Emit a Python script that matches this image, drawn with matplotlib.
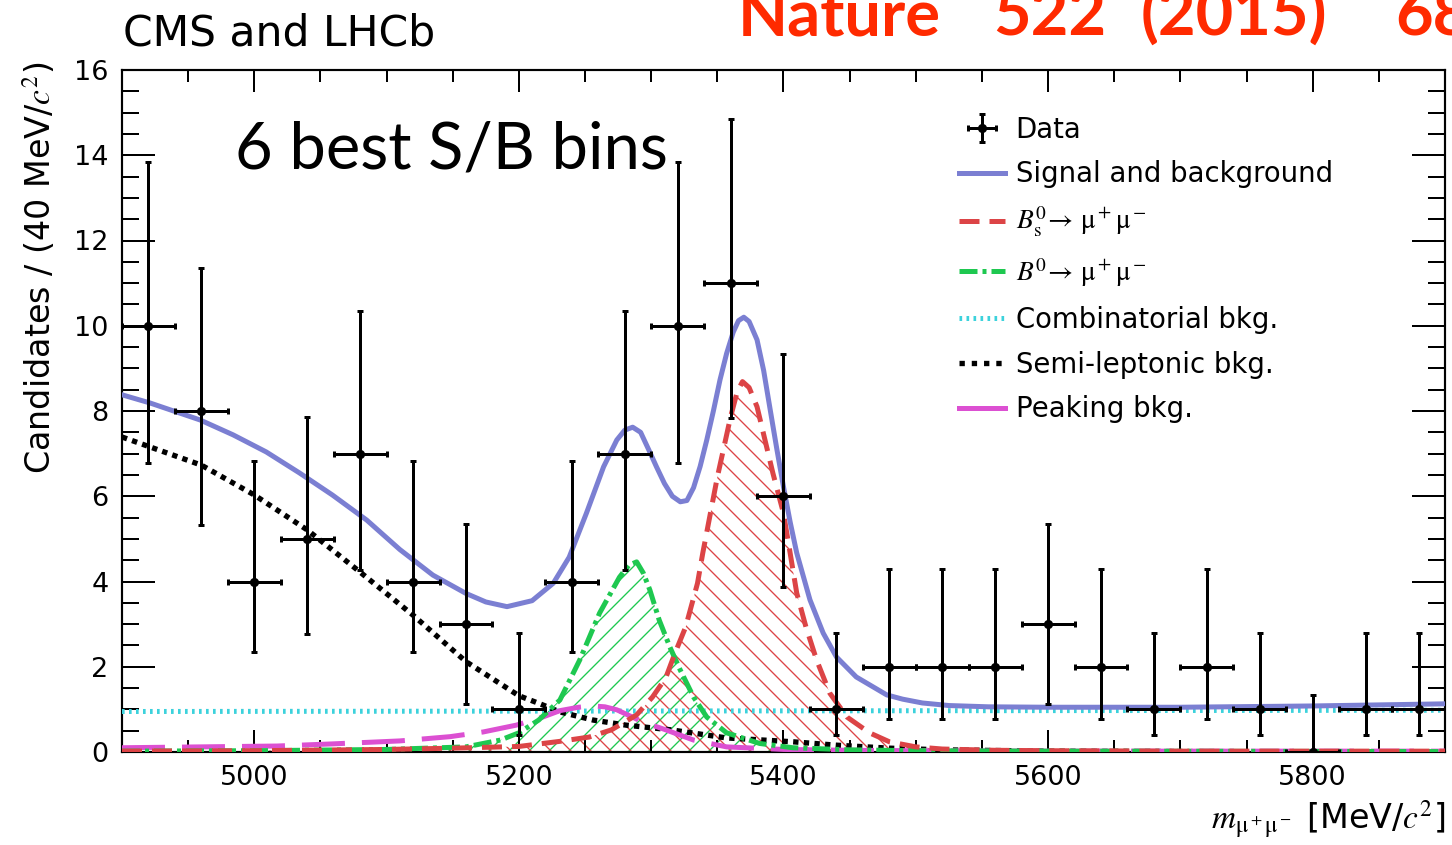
import numpy as np
import matplotlib
matplotlib.use("Agg")
import matplotlib.pyplot as plt
from matplotlib.lines import Line2D

plt.rcParams['font.family'] = ['DejaVu Sans']
plt.rcParams['mathtext.fontset'] = 'stix'
plt.rcParams['hatch.linewidth'] = 0.8

# data: 40 MeV bins
bin_centers = [4920, 4960, 5000, 5040, 5080, 5120, 5160, 5200, 5240, 5280, 5320, 5360, 5400,
               5440, 5480, 5520, 5560, 5600, 5640, 5680, 5720, 5760, 5800, 5840, 5880]
counts = [10, 8, 4, 5, 7, 4, 3, 1, 4, 7, 10, 11, 6, 1, 2, 2, 2, 3, 2, 1, 2, 1, 0, 1, 1]
err_low = [3.22, 2.67, 1.65, 2.23, 2.73, 1.65, 1.87, 0.60, 1.65, 2.73, 3.22, 3.16, 2.14,
           0.60, 1.22, 1.22, 1.22, 1.87, 1.22, 0.60, 1.22, 0.60, 0.0, 0.60, 0.60]
err_high = [3.85, 3.36, 2.83, 2.86, 3.35, 2.83, 2.35, 1.80, 2.83, 3.35, 3.85, 3.85, 3.34,
            1.80, 2.29, 2.29, 2.29, 2.35, 2.29, 1.80, 2.29, 1.80, 1.34, 1.80, 1.80]
bin_half = 20

# fit components
m_sb = [4900, 4921, 4959, 4984, 5009, 5034, 5059, 5085, 5110, 5135, 5160, 5175, 5191, 5210,
        5226, 5238, 5251, 5264, 5274, 5280, 5286, 5292, 5298, 5304, 5310, 5316, 5322, 5327,
        5332, 5337, 5342, 5347, 5352, 5357, 5362, 5366, 5370, 5374, 5380, 5385, 5390, 5395,
        5400, 5405, 5410, 5420, 5430, 5440, 5455, 5478, 5490, 5505, 5525, 5555, 5600, 5700,
        5800, 5900]
y_sb = [8.38, 8.19, 7.79, 7.44, 7.04, 6.55, 6.03, 5.44, 4.75, 4.15, 3.72, 3.52, 3.41, 3.55,
        3.96, 4.57, 5.6, 6.69, 7.32, 7.55, 7.62, 7.5, 7.1, 6.69, 6.3, 6.0, 5.87, 5.9,
        6.2, 6.7, 7.32, 8.0, 8.73, 9.35, 9.85, 10.12, 10.2, 10.1, 9.67, 8.95, 8.02, 7.1,
        6.22, 5.4, 4.67, 3.57, 2.79, 2.23, 1.76, 1.34, 1.24, 1.15, 1.09, 1.06, 1.05, 1.05,
        1.08, 1.13]

m_bs = [4900, 5000, 5100, 5150, 5200, 5231, 5253, 5270, 5289, 5301, 5311, 5318, 5326, 5331,
        5335, 5339, 5350, 5360, 5365, 5369, 5374, 5380, 5386, 5392, 5400, 5405, 5410, 5417,
        5425, 5435, 5448, 5465, 5480, 5500, 5520, 5560, 5600, 5700, 5900]
y_bs = [0.02, 0.03, 0.06, 0.09, 0.13, 0.25, 0.35, 0.52, 0.87, 1.29, 1.74, 2.32, 2.93, 3.5,
        3.96, 4.67, 6.45, 7.86, 8.45, 8.69, 8.55, 8.1, 7.32, 6.54, 5.6, 4.67, 3.73, 2.93,
        2.16, 1.38, 0.82, 0.45, 0.24, 0.12, 0.07, 0.04, 0.03, 0.02, 0.02]

m_b0 = [4900, 5000, 5100, 5160, 5186, 5200, 5215, 5231, 5246, 5261, 5276, 5283, 5289, 5294,
        5299, 5306, 5314, 5322, 5332, 5342, 5357, 5382, 5407, 5450, 5500, 5600, 5900]
y_b0 = [0.02, 0.03, 0.06, 0.12, 0.28, 0.45, 0.75, 1.22, 2.16, 3.26, 4.1, 4.38, 4.46, 4.2,
        3.8, 3.1, 2.47, 1.92, 1.29, 0.82, 0.45, 0.2, 0.1, 0.05, 0.03, 0.02, 0.01]

m_comb = [4900, 5900]
y_comb = [0.95, 0.98]

m_sl = [4900, 4960, 5000, 5040, 5080, 5120, 5160, 5200, 5216, 5231, 5256, 5281, 5315, 5357,
        5407, 5440, 5480, 5520, 5600, 5700, 5900]
y_sl = [7.39, 6.73, 6.03, 5.21, 4.22, 3.21, 2.12, 1.32, 1.13, 0.94, 0.75, 0.63, 0.52, 0.33,
        0.24, 0.16, 0.09, 0.05, 0.02, 0.01, 0.0]

m_pk = [4900, 4959, 5017, 5059, 5110, 5148, 5173, 5198, 5218, 5231, 5245, 5256, 5265, 5274,
        5294, 5311, 5332, 5357, 5400, 5450, 5500, 5600, 5900]
y_pk = [0.1, 0.12, 0.14, 0.19, 0.26, 0.36, 0.47, 0.63, 0.82, 0.97, 1.05, 1.08, 1.06, 0.99,
        0.7, 0.52, 0.28, 0.12, 0.06, 0.04, 0.03, 0.02, 0.02]

c_sb = '#7b7fd2'
c_bs = '#dc4446'
c_b0 = '#1ec850'
c_comb = '#3cd2dc'
c_pk = '#dc50d2'

st_bs = dict(color=c_bs, lw=3.0, dashes=(4, 2))
st_b0 = dict(color=c_b0, lw=3.0, dashes=(3.6, 1.0, 0.8, 1.0))
st_comb = dict(color=c_comb, lw=3.0, dashes=(0.53, 0.87))
st_sl = dict(color='black', lw=3.2, dashes=(1, 1))
st_pk = dict(color=c_pk, lw=3.0, dashes=(8.6, 3.4))

fig = plt.figure(figsize=(12.1, 845 / 120), dpi=120)
ax = fig.add_axes([122 / 1452, 1 - 752 / 845, 1323 / 1452, 682 / 845])

# hatched signal areas
ax.fill_between(m_b0, 0, y_b0, facecolor='none', edgecolor=c_b0, hatch='//', linewidth=0, zorder=1)
ax.fill_between(m_bs, 0, y_bs, facecolor='none', edgecolor=c_bs, hatch='\\\\', linewidth=0, zorder=1)

ax.plot(m_comb, y_comb, zorder=3, **st_comb)
ax.plot(m_sl, y_sl, zorder=3, **st_sl)
ax.plot(m_pk, y_pk, zorder=3, **st_pk)
ax.plot(m_b0, y_b0, zorder=4, **st_b0)
ax.plot(m_bs, y_bs, zorder=4, **st_bs)
ax.plot(m_sb, y_sb, color=c_sb, lw=3.0, zorder=5)

data = ax.errorbar(bin_centers, counts, xerr=bin_half, yerr=[err_low, err_high],
                   fmt='o', color='black', ms=4.5, elinewidth=1.8, capsize=2,
                   capthick=1.8, zorder=10)

ax.set_xlim(4900, 5900)
ax.set_ylim(0, 16)
ax.set_xticks([5000, 5200, 5400, 5600, 5800])
ax.set_xticks(np.arange(4900, 5901, 50), minor=True)
ax.set_yticks(np.arange(0, 17, 2))
ax.set_yticks(np.arange(0, 16.1, 0.5), minor=True)
ax.tick_params(axis='both', which='both', direction='in', top=True, right=True,
               width=1.2, labelsize=16.2, colors='black')
ax.tick_params(axis='x', which='major', length=13, pad=8)
ax.tick_params(axis='x', which='minor', length=7)
ax.tick_params(axis='y', which='major', length=20, pad=8)
ax.tick_params(axis='y', which='minor', length=10)
for sp in ax.spines.values():
    sp.set_linewidth(1.3)

ax.set_ylabel('Candidates / (40 MeV/$c^2$)', fontsize=20, loc='top')
ax.yaxis.set_label_coords(-0.049, 1.012)
ax.set_xlabel(r'$m_{\mathrm{\mu^+\mu^-}}$ [MeV/$c^2$]', fontsize=20, loc='right')
ax.xaxis.set_label_coords(1.0, -0.068)

handles = [
    data,
    Line2D([], [], color=c_sb, lw=3.0),
    Line2D([], [], **st_bs),
    Line2D([], [], **st_b0),
    Line2D([], [], **st_comb),
    Line2D([], [], color='black', lw=3.2, dashes=(1, 1.3)),
    Line2D([], [], color=c_pk, lw=3.0),
]
labels = ['Data', 'Signal and background',
          r'$B^0_\mathrm{s}\!\rightarrow\,\mathrm{\mu^+\mu^-}$',
          r'$B^0\!\rightarrow\,\mathrm{\mu^+\mu^-}$',
          'Combinatorial bkg.', 'Semi-leptonic bkg.', 'Peaking bkg.']
ax.legend(handles, labels, loc='upper left', bbox_to_anchor=(0.633, 0.933), frameon=False,
          fontsize=16.5, handlelength=1.64, handletextpad=0.4, labelspacing=0.61,
          borderpad=0, borderaxespad=0)

fig.text(123 / 1452, 1 - 45 / 845, 'CMS and LHCb', fontsize=25.5, va='baseline')
fig.text(235 / 1452, 1 - 168 / 845, '6 best S/B bins', fontsize=39, family='Lato',
         va='baseline')
# journal reference, cut by the top edge as in the original slide
red = '#ff2a00'
for word, xp in [('Nature', 738), ('522', 993), ('(2015)', 1141), ('68', 1395)]:
    fig.text(xp / 1452, 1 - 35 / 845, word, fontsize=39, family='Lato', weight='bold',
             color=red, va='baseline')

fig.savefig('out.png', dpi=120)
